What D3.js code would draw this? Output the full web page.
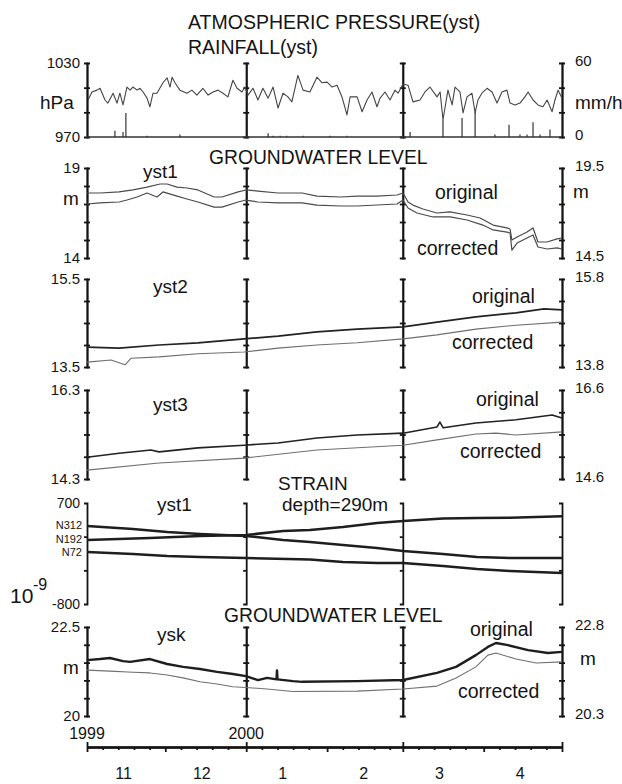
<!DOCTYPE html>
<html>
<head>
<meta charset="utf-8">
<script src="https://cdn.jsdelivr.net/npm/d3@7"></script>
<style>
  body { margin: 0; background: #fff; }
  svg { display: block; font-family: "Liberation Sans", Arial, Helvetica, sans-serif; }
</style>
</head>
<body>
<div id="chart"></div>
<script>
// ---- data: [day since 1999-11-01, value] ----
const pressureHpa = [[0.4,1000],[1.9,1006.5],[3.8,1008],[5,1009.5],[6.9,1000],[8,997.5],[10,1005.5],[11.5,997.5],[12.6,1005.5],[13.8,996],[15.3,1010.5],[16.5,1008],[17.6,1010.5],[19.2,1008],[20.3,1009.5],[21.5,1006.5],[23,1001.5],[24.1,994.5],[25.3,1005.5],[26.8,1005.5],[27.9,1009.5],[29.1,1014],[30.7,1018],[31.8,1010.5],[32.6,1018.5],[33.7,1014],[35.6,1008],[38.3,1005.5],[40.2,1008],[42.1,1004],[44.4,1009.5],[46.4,1004],[48.3,1006.5],[50.2,1008],[52.1,1005.5],[54,1002.5],[55.9,1016],[57.5,1009.5],[59.4,1006.5],[60.5,1010.5],[61.7,1004],[63.6,1009.5],[65.5,1000],[67.4,1009.5],[69.4,1001.5],[71.3,1010.5],[73.2,993.5],[75.1,1005.5],[77,1002.5],[78.5,998.5],[80.8,1020],[82.8,1008],[85.4,1006.5],[88.1,1018.5],[90,1014],[92,1014.5],[93.9,1010.5],[95.8,1012],[97.7,1002.5],[99.6,988],[100.8,1002.5],[103.5,1002.5],[105.4,990.5],[107.3,1000],[109.2,1006.5],[111.1,994.5],[112.3,1001.5],[114.2,1006.5],[116.1,1000],[118,1008],[119.2,1005.5],[121.1,1013],[123,1012],[124.9,998.5],[127.6,1000],[129.5,1006.5],[131.4,1010.5],[134.1,1002.5],[135.3,1006.5],[136.4,984],[138.3,1008],[139.9,996],[141,1010.5],[142.9,1006.5],[144.1,989.5],[145.6,1002.5],[147.5,1005.5],[148.7,989.5],[149.8,1000],[151.3,1005.5],[153.3,1009.5],[155.2,1006.5],[157.1,997.5],[159,1006.5],[160.9,1008],[162.1,997.5],[164,996],[165.9,997.5],[167.8,1002.5],[169,1006.5],[170.9,1000],[172.8,996],[174.7,994.5],[176.3,1000],[178.2,990.5],[179.3,1000],[180.5,1008],[182,1001.5]];
const rainfallMmh = [[10.7,5],[13.8,4],[14.9,19.5],[23,1],[35.6,2],[69.4,3],[71.3,1],[74,1],[76.6,1],[82.8,1],[93.1,1],[99.6,1],[123.8,4],[136.4,14],[143.7,15.5],[148.7,20],[156.3,2],[161.7,10],[165.9,2],[168.6,2],[170.9,12],[173.6,2],[177.4,6]];

const yst1Original = [[0,17.61],[5,17.61],[12.3,17.67],[17.6,17.78],[23,17.94],[28,18.11],[30.7,18.11],[34.5,17.94],[38.3,17.89],[42.5,17.78],[48.7,17.39],[51.7,17.39],[57.9,17.67],[60.9,17.78],[65.5,17.72],[73.2,17.61],[82.4,17.61],[88.1,17.44],[97.3,17.39],[103.5,17.44],[111.1,17.44],[118.8,17.5],[121.1,17.61],[123,17.11],[124.9,16.94],[128.7,16.72],[134.1,16.5],[139.1,16.56],[145.6,16.39],[150.6,16.22],[155.6,15.83],[160.9,15.67],[162.1,15.61],[162.8,15.0],[164.8,15.17],[168.6,15.44],[170.9,15.67],[172.8,14.89],[176.3,14.89],[180.1,15.06],[182,15.11]];
const yst1Corrected = [[0,17.5],[5,17.56],[12.3,17.61],[15.3,17.72],[19.2,17.89],[23,18.11],[26.8,17.89],[29.1,18.17],[34.5,17.94],[38.3,17.78],[42.5,17.61],[48.7,17.33],[51.7,17.33],[57.9,17.61],[60.9,17.72],[65.5,17.61],[73.2,17.56],[82.4,17.56],[88.1,17.44],[97.3,17.39],[103.5,17.39],[118.8,17.5],[121.1,17.72],[123,17.28],[126.4,17.0],[132.6,16.78],[139.1,16.78],[145.6,16.61],[151.7,16.33],[155.6,16.06],[160.9,15.94],[162.1,15.89],[162.8,14.94],[164.8,15.33],[168.6,15.61],[170.9,15.78],[172.8,15.11],[176.3,15.0],[180.1,15.06],[182,15.0]];

const yst2Original = [[0,13.95],[12.3,13.93],[27.6,14.0],[42.5,14.05],[60.2,14.14],[73.2,14.2],[88.1,14.3],[103.5,14.36],[121.1,14.41],[134.1,14.52],[149,14.64],[164.4,14.73],[175.1,14.82],[182,14.8]];
const yst2Corrected = [[0,13.91],[9.2,13.96],[14.6,13.85],[16.9,14.0],[27.6,14.03],[42.5,14.1],[60.2,14.14],[73.2,14.23],[88.1,14.3],[103.5,14.35],[121.1,14.44],[134.1,14.53],[149,14.66],[164.4,14.75],[182,14.82]];

const yst3Original = [[0,14.79],[12.3,14.88],[24.5,14.95],[27.6,14.91],[42.5,15.0],[60.2,15.06],[73.2,15.11],[88.1,15.22],[103.5,15.29],[121.1,15.33],[134.1,15.47],[135.2,15.58],[136.5,15.45],[149,15.56],[164.4,15.63],[178.2,15.74],[182,15.67]];
const yst3Corrected = [[0,14.8],[27.6,14.96],[60.2,15.07],[88.1,15.25],[121.1,15.36],[134.1,15.48],[149,15.61],[156.7,15.63],[164.4,15.59],[182,15.66]];

const strainN312 = [[0,358],[17.6,314],[30.7,269],[43.3,240],[60.9,210],[75.1,151],[85.4,121],[98.1,76],[111.1,32],[121.1,-13],[136.4,-57],[149.4,-102],[162.1,-117],[182,-117]];
const strainN192 = [[0,151],[24.1,180],[43.3,210],[60.9,225],[75.1,284],[85.4,299],[98.1,344],[111.1,403],[121.1,433],[136.4,470],[149.4,478],[162.1,482],[182,505]];
const strainN72 = [[0,-28],[17.6,-57],[30.7,-87],[43.3,-102],[60.9,-117],[85.4,-140],[98.1,-176],[111.1,-191],[121.1,-191],[136.4,-236],[149.4,-280],[162.1,-310],[182,-340]];

const yskOriginal = [[0,21.57],[5,21.6],[8.8,21.63],[13.8,21.54],[16.5,21.52],[24.1,21.6],[30.7,21.46],[36.8,21.38],[43.3,21.32],[49.8,21.24],[55.9,21.18],[60.9,21.12],[65.5,21.01],[69,21.07],[72.6,21.03],[72.8,21.28],[73,21.03],[78.9,20.98],[82.4,20.96],[103.5,20.98],[121.1,21.01],[134.1,21.21],[141.4,21.38],[149,21.71],[153.6,21.94],[156.7,22.05],[161.3,21.99],[169,21.85],[176.6,21.77],[182,21.8]];
const yskCorrected = [[0,21.59],[8.8,21.56],[17.6,21.53],[24.1,21.51],[30.7,21.45],[36.8,21.37],[43.3,21.26],[49.8,21.2],[55.9,21.12],[60.9,21.1],[69,21.06],[78.9,20.99],[103.5,21.0],[121.1,21.06],[134.1,21.14],[141.4,21.37],[149,21.68],[153.6,22.01],[156.7,22.07],[164.4,21.9],[172.1,21.79],[182,21.82]];

const monthLabels = ["11", "12", "1", "2", "3", "4"];
const yearLabels = ["1999", "2000"];

// ---- setup ----
const W = 622, H = 784;
const t0 = Date.UTC(1999, 10, 1);
const day = d => new Date(t0 + d * 864e5);
const x = d3.scaleUtc().domain([day(0), new Date(Date.UTC(2000, 4, 1))]).range([87, 562]);
const gridDates = [day(0), new Date(Date.UTC(2000, 0, 1)), new Date(Date.UTC(2000, 2, 1)), new Date(Date.UTC(2000, 4, 1))];

const svg = d3.select("#chart").append("svg")
    .attr("width", W).attr("height", H)
    .style("background", "#fff");

const ink = "#141414";

function text(tx, ty, s, size, anchor) {
    return svg.append("text")
        .attr("x", tx).attr("y", ty)
        .attr("font-size", size)
        .attr("text-anchor", anchor || "start")
        .attr("fill", ink)
        .text(s);
}

// panel frame: vertical "I" axes at each grid date + end labels
function frame(p) {
    const yL = d3.scaleLinear().domain(p.left).range([p.bottom, p.top]);
    const yR = d3.scaleLinear().domain(p.right).range([p.bottom, p.top]);
    gridDates.forEach(dt => {
        const g = svg.append("g").attr("transform", `translate(${x(dt)},0)`);
        g.append("g").call(d3.axisLeft(yL).tickValues(p.ticks).tickSize(3).tickSizeOuter(3).tickFormat(""));
        if (!p.leftOnly) {
            g.append("g").call(d3.axisRight(yL).tickValues(p.ticks).tickSize(3).tickSizeOuter(3).tickFormat(""));
        }
        g.selectAll("path, line").attr("stroke", ink).attr("stroke-width", 1.8);
    });
    // end labels
    const fs = p.labelSize || 15;
    text(80, yL(p.left[1]) + 5, p.left[1], fs, "end");
    text(80, yL(p.left[0]) + 5, p.left[0], fs, "end");
    if (p.rightLabels) {
        text(575, yR(p.right[1]) + 3, p.right[1], fs);
        text(575, yR(p.right[0]) + 3, p.right[0], fs);
    }
    return { yL, yR };
}

function trace(data, y, color, width) {
    svg.append("path")
        .datum(data)
        .attr("fill", "none")
        .attr("stroke", color)
        .attr("stroke-width", width)
        .attr("stroke-linejoin", "round")
        .attr("d", d3.line().x(d => x(day(d[0]))).y(d => y(d[1])));
}

// ---- panel 1: pressure & rainfall ----
let s = frame({ top: 63, bottom: 137, left: [970, 1030], right: [0, 60], ticks: [990, 1010], rightLabels: true });
trace(pressureHpa, s.yL, "#444", 1.1);
svg.append("line")
    .attr("x1", x(day(0))).attr("x2", x(day(182)))
    .attr("y1", s.yR(0)).attr("y2", s.yR(0))
    .attr("stroke", "#333").attr("stroke-width", 1.6);
svg.append("g").selectAll("line")
    .data(rainfallMmh)
    .join("line")
    .attr("x1", d => x(day(d[0]))).attr("x2", d => x(day(d[0])))
    .attr("y1", s.yR(0)).attr("y2", d => s.yR(d[1]))
    .attr("stroke", "#333").attr("stroke-width", 1.2);

text(188, 29, "ATMOSPHERIC PRESSURE(yst)", 19.5);
text(188, 54, "RAINFALL(yst)", 19.5);
text(40, 109, "hPa", 19);
text(575, 109, "mm/h", 19);

// ---- panel 2: groundwater yst1 ----
text(209, 164, "GROUNDWATER LEVEL", 19.3);
s = frame({ top: 168, bottom: 258, left: [14, 19], right: [14.5, 19.5], ticks: [15, 16, 17, 18], rightLabels: true });
trace(yst1Original, s.yL, "#4a4a4a", 1.2);
trace(yst1Corrected, s.yR, "#4a4a4a", 1.2);
text(143, 178, "yst1", 19);
text(63, 205, "m", 19);
text(573, 198, "m", 19);
text(435, 199, "original", 19.5);
text(417, 255, "corrected", 19.5);

// ---- panel 3: yst2 ----
s = frame({ top: 279, bottom: 367, left: [13.5, 15.5], right: [13.8, 15.8], ticks: [14, 14.5, 15], rightLabels: true });
trace(yst2Original, s.yL, "#222", 1.7);
trace(yst2Corrected, s.yR, "#6e6e6e", 1.1);
text(153, 293, "yst2", 19);
text(472, 303, "original", 19.5);
text(452, 349, "corrected", 19.5);

// ---- panel 4: yst3 ----
s = frame({ top: 390, bottom: 479, left: [14.3, 16.3], right: [14.6, 16.6], ticks: [14.8, 15.3, 15.8], rightLabels: true });
trace(yst3Original, s.yL, "#222", 1.6);
trace(yst3Corrected, s.yR, "#6e6e6e", 1.1);
text(153, 411, "yst3", 19);
text(476, 406, "original", 19.5);
text(460, 458, "corrected", 19.5);

// ---- panel 5: strain ----
text(278, 490, "STRAIN", 19);
s = frame({ top: 503, bottom: 604, left: [-800, 700], right: [-800, 700], ticks: [-300, 200], leftOnly: true, labelSize: 14 });
trace(strainN312, s.yL, "#1e1e1e", 2.5);
trace(strainN192, s.yL, "#1e1e1e", 2.5);
trace(strainN72, s.yL, "#1e1e1e", 2.5);
text(157, 511, "yst1", 19);
text(282, 511, "depth=290m", 19);
text(82, 529, "N312", 11, "end");
text(82, 543, "N192", 11, "end");
text(82, 556, "N72", 11, "end");
text(10, 603, "10", 21);
text(33, 590, "-9", 16);

// ---- panel 6: groundwater ysk ----
text(224, 622, "GROUNDWATER LEVEL", 19.3);
s = frame({ top: 627, bottom: 716, left: [20, 22.5], right: [20.3, 22.8], ticks: [20.5, 21, 21.5, 22], rightLabels: true });
trace(yskOriginal, s.yL, "#1e1e1e", 2.4);
trace(yskCorrected, s.yR, "#707070", 1.1);
text(157, 641, "ysk", 19);
text(63, 674, "m", 19);
text(580, 665, "m", 19);
text(470, 636, "original", 19.5);
text(458, 698, "corrected", 19.5);

// ---- time axis ----
const axisY = 747;
const months = d3.utcMonth.range(day(0), new Date(Date.UTC(2000, 4, 2)));
const minorTicks = [];
months.slice(0, 6).forEach(m => [6, 12, 18, 24].forEach(k => minorTicks.push(d3.utcDay.offset(m, k))));

const ax = svg.append("g").attr("transform", `translate(0,${axisY})`);
ax.append("g").call(d3.axisBottom(x).tickValues(minorTicks).tickSize(3).tickSizeOuter(0).tickFormat(""));
ax.append("g").call(d3.axisBottom(x).tickValues(months).tickSize(5).tickSizeOuter(0).tickFormat(""));
ax.append("g").call(d3.axisTop(x).tickValues(gridDates).tickSize(5).tickSizeOuter(0).tickFormat(""));
ax.selectAll("path, line").attr("stroke", ink).attr("stroke-width", 1.8);

// year labels and month labels
const midMonths = months.slice(0, 6).map(m => d3.utcDay.offset(m, 14));
svg.append("g").selectAll("text")
    .data(yearLabels)
    .join("text")
    .attr("x", (d, i) => x(gridDates[i]))
    .attr("y", 739)
    .attr("text-anchor", "middle")
    .attr("font-size", 16)
    .attr("fill", ink)
    .text(d => d);
svg.append("g").selectAll("text")
    .data(monthLabels)
    .join("text")
    .attr("x", (d, i) => x(midMonths[i]))
    .attr("y", 779)
    .attr("text-anchor", "middle")
    .attr("font-size", 16)
    .attr("fill", ink)
    .text(d => d);
</script>
</body>
</html>
